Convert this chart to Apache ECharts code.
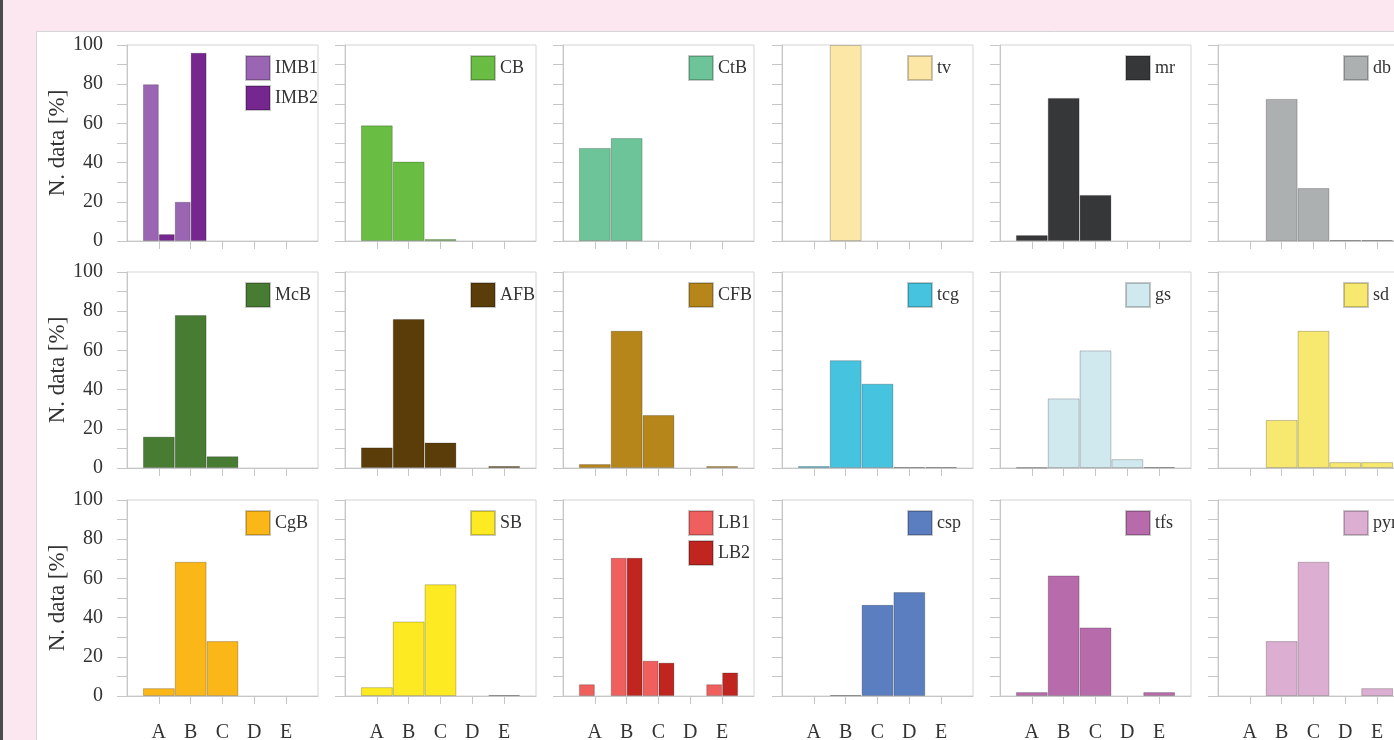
<!DOCTYPE html>
<html>
<head>
<meta charset="utf-8">
<script src="https://cdn.jsdelivr.net/npm/echarts@6/dist/echarts.min.js"></script>
<style>
html, body { margin: 0; padding: 0; background: #fce7f0; }
#main { width: 1394px; height: 740px; }
</style>
</head>
<body>
<div id="main"></div>
<script>
// classes on the x axis
let categories = ['A', 'B', 'C', 'D', 'E'];

// N. data [%] per class
let IMB1 = [80, 20, 0, 0, 0];
let IMB2 = [3.5, 96, 0, 0, 0];
let CB = [59, 40.5, 1, 0, 0];
let CtB = [47.5, 52.5, 0, 0, 0];
let tv = [0, 100, 0, 0, 0];
let mr = [3, 73, 23.5, 0, 0];
let db = [0, 72.5, 27, 0.5, 0.5];
let McB = [16, 78, 6, 0, 0];
let AFB = [10.5, 76, 13, 0, 1];
let CFB = [2, 70, 27, 0, 1];
let tcg = [1, 55, 43, 0.5, 0.5];
let gs = [0.3, 35.5, 60, 4.5, 0.5];
let sd = [0, 24.5, 70, 3, 3];
let CgB = [4, 68.5, 28, 0, 0];
let SB = [4.5, 38, 57, 0, 0.5];
let LB1 = [6, 70.5, 18, 0, 6];
let LB2 = [0, 70.5, 17, 0, 12];
let csp = [0, 0.5, 46.5, 53, 0];
let tfs = [2, 61.5, 35, 0, 2];
let pyr = [0, 28, 68.5, 0, 4];

let values = {IMB1, IMB2, CB, CtB, tv, mr, db, McB, AFB, CFB, tcg, gs, sd, CgB, SB, LB1, LB2, csp, tfs, pyr};

let colors = {
    IMB1: '#9a66b3', IMB2: '#76268f', CB: '#6abd43', CtB: '#6cc498',
    tv: '#fde7a7', mr: '#353738', db: '#adb0b0', McB: '#487c33',
    AFB: '#5b3d0a', CFB: '#b7861b', tcg: '#46c3de', gs: '#d0e9ef',
    sd: '#f7e86f', CgB: '#fbb718', SB: '#fdea22', LB1: '#ef5f5d',
    LB2: '#c02520', csp: '#5b7ec0', tfs: '#b76bab', pyr: '#dcafd2'
};

// panels, row by row
let panels = [
    ['IMB1', 'IMB2'], ['CB'], ['CtB'], ['tv'], ['mr'], ['db'],
    ['McB'], ['AFB'], ['CFB'], ['tcg'], ['gs'], ['sd'],
    ['CgB'], ['SB'], ['LB1', 'LB2'], ['csp'], ['tfs'], ['pyr']
];

let font = 'Liberation Serif';
let lefts = [127, 345, 563, 782, 1000, 1218];
let tops = [45, 272, 500];
let boxW = 191, boxH = 196;
let axisGray = '#c6c6c6';

let grid = [], xAxis = [], yAxis = [], series = [], legend = [];

panels.forEach(function (names, i) {
    let row = Math.floor(i / 6), col = i % 6;
    grid.push({
        left: lefts[col], top: tops[row], width: boxW, height: boxH,
        show: true, backgroundColor: '#fff', borderColor: '#d4d4d4', borderWidth: 1,
        containLabel: false, outerBoundsMode: 'none'
    });
    xAxis.push({
        type: 'category', gridIndex: i,
        data: [''].concat(categories, ['']),
        boundaryGap: false,
        axisLine: {show: true, lineStyle: {color: axisGray}},
        axisTick: {show: true, length: 8, lineStyle: {color: axisGray},
            interval: function (idx) { return idx > 0 && idx < 6; }},
        axisLabel: {show: row === 2, interval: 0, margin: 27,
            fontFamily: font, fontSize: 20, color: '#333'},
        splitLine: {show: false}
    });
    yAxis.push({
        type: 'value', gridIndex: i, min: 0, max: 100, interval: 10,
        name: col === 0 ? 'N. data [%]' : '',
        nameLocation: 'middle', nameGap: 53,
        nameTextStyle: {fontFamily: font, fontSize: 23, color: '#333'},
        axisLine: {show: true, lineStyle: {color: axisGray}},
        axisTick: {show: true, length: 10, lineStyle: {color: axisGray}},
        axisLabel: {show: col === 0, margin: 24, fontFamily: font, fontSize: 20, color: '#333',
            formatter: function (v) { return v % 20 === 0 ? v : ''; }},
        splitLine: {show: false}
    });
    names.forEach(function (name) {
        series.push({
            name: name, type: 'bar', xAxisIndex: i, yAxisIndex: i,
            data: ['-'].concat(values[name].map(function (v) { return v === 0 ? '-' : v; }), ['-']),
            barGap: '0%', barCategoryGap: '0%',
            itemStyle: {color: colors[name], borderColor: 'rgba(0,0,0,0.22)', borderWidth: 1}
        });
    });
    legend.push({
        data: names, orient: 'vertical', icon: 'rect', padding: 0,
        left: lefts[col] + (col === 0 ? 118 : 125), top: tops[row] + 10,
        itemWidth: 24, itemHeight: 24, itemGap: 4,
        selectedMode: false,
        textStyle: {fontFamily: font, fontSize: 18, color: '#333'}
    });
});

let myChart = echarts.init(document.getElementById('main'));
myChart.setOption({
    backgroundColor: '#fce7f0',
    animation: false,
    graphic: {
        elements: [
            {type: 'rect', z: -10, shape: {x: 36.5, y: 31.5, width: 1400, height: 800},
                style: {fill: '#fff', stroke: '#d6d6d6', lineWidth: 1}},
            {type: 'rect', z: -10, shape: {x: 0, y: 0, width: 3, height: 740},
                style: {fill: '#4b4b4b'}}
        ]
    },
    grid: grid,
    xAxis: xAxis,
    yAxis: yAxis,
    legend: legend,
    series: series
});
</script>
</body>
</html>
